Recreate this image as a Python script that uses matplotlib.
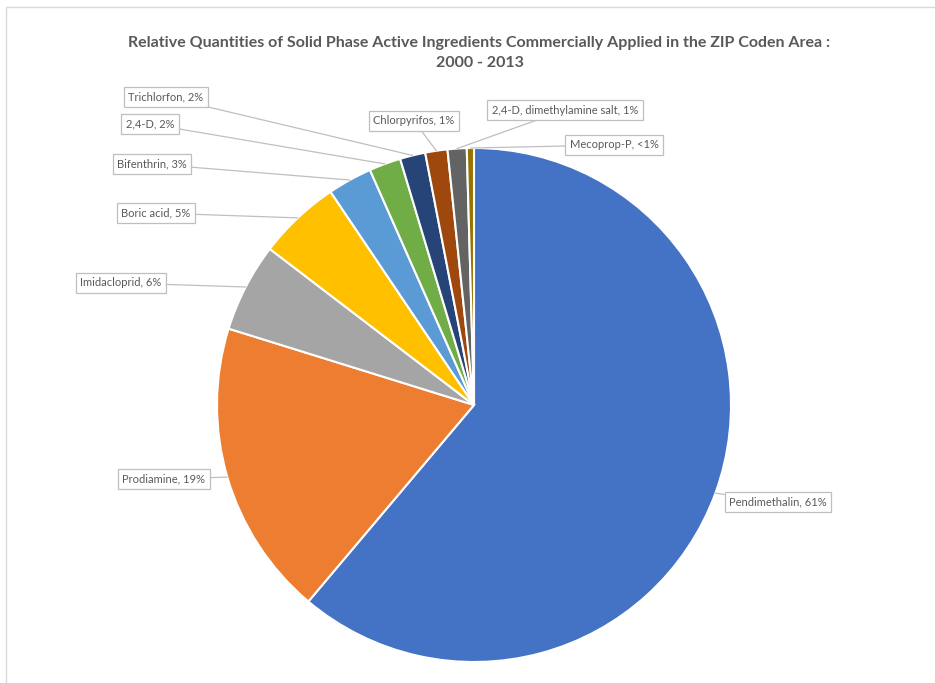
import numpy as np
import matplotlib.pyplot as plt
from matplotlib.patches import Rectangle

plt.rcParams['font.family'] = ['Lato', 'DejaVu Sans']

names = ['Pendimethalin', 'Prodiamine', 'Imidacloprid', 'Boric acid', 'Bifenthrin',
         '2,4-D', 'Trichlorfon', 'Chlorpyrifos', '2,4-D, dimethylamine salt', 'Mecoprop-P']
shares = [61.3, 18.7, 5.6, 5.2, 2.8, 2.0, 1.6, 1.4, 1.2, 0.45]
pct_text = ['61%', '19%', '6%', '5%', '3%', '2%', '2%', '1%', '1%', '<1%']
colors = ['#4472C4', '#ED7D31', '#A5A5A5', '#FFC000', '#5B9BD5',
          '#70AD47', '#264478', '#9E480E', '#636363', '#997300']

# label box centres, in pixels from the top-left corner
label_px = [(778, 502), (164, 479), (121, 283), (156, 213), (152, 164),
            (150, 124), (166, 97), (414, 121), (565, 110), (614, 145)]

W, H = 935, 683
cx, cy, r = 474, H - 405, 257

fig = plt.figure(figsize=(W / 100, H / 100), dpi=100)
ax = fig.add_axes([0, 0, 1, 1])
ax.set_xlim(0, W)
ax.set_ylim(0, H)
ax.set_aspect('equal')
ax.axis('off')

ax.add_patch(Rectangle((6, -10), W + 10, H - 7 + 10, fill=False,
                       edgecolor='#d9d9d9', linewidth=1))

wedges, _ = ax.pie(shares, colors=colors, startangle=90, counterclock=False,
                   center=(cx, cy), radius=r, normalize=True,
                   wedgeprops=dict(edgecolor='white', linewidth=1.5))
ax.set_xlim(0, W)
ax.set_ylim(0, H)

for w, name, pt, (px, py) in zip(wedges, names, pct_text, label_px):
    mid = np.deg2rad((w.theta1 + w.theta2) / 2)
    edge = (cx + r * np.cos(mid), cy + r * np.sin(mid))
    ax.annotate(f'{name}, {pt}', xy=edge, xytext=(px, H - py),
                ha='center', va='center', fontsize=8, color='#595959',
                bbox=dict(boxstyle='square,pad=0.4', fc='white', ec='#bfbfbf', lw=0.9),
                arrowprops=dict(arrowstyle='-', color='#bfbfbf', lw=0.9,
                                shrinkA=0, shrinkB=0))

ax.text(W / 2 + 12, H - 43, 'Relative Quantities of Solid Phase Active Ingredients '
        'Commercially Applied in the ZIP Coden Area :', ha='center', va='center',
        fontsize=11.5, fontweight='bold', color='#595959')
ax.text(W / 2 + 12, H - 63, '2000 - 2013', ha='center', va='center',
        fontsize=11.5, fontweight='bold', color='#595959')

fig.savefig('out.png', dpi=100)
